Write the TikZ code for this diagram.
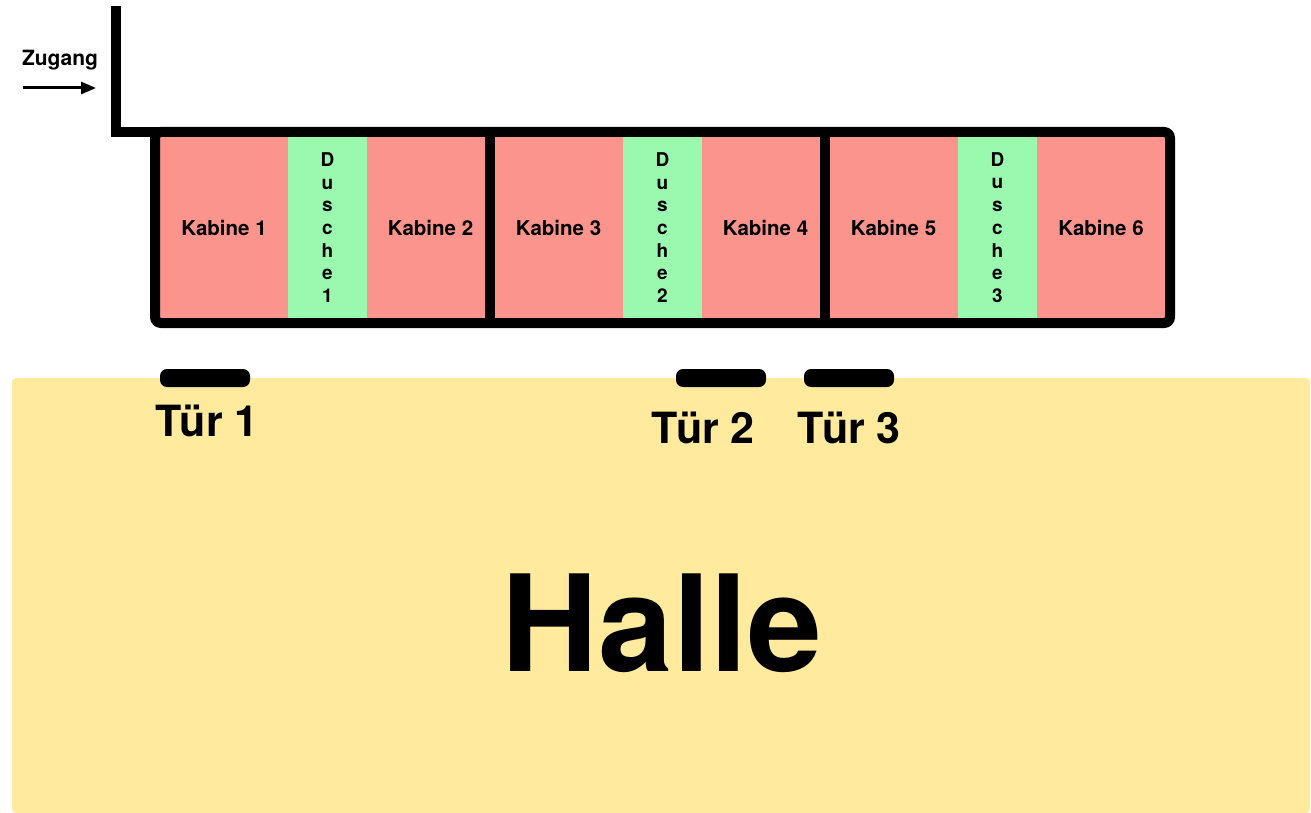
\documentclass[tikz,border=0pt]{standalone}
\usepackage{fontspec}
\setmainfont{TeX Gyre Heros}
\usetikzlibrary{arrows.meta}
\definecolor{kabred}{HTML}{FB948D}
\definecolor{duschgreen}{HTML}{9AF9AF}
\definecolor{hallegelb}{HTML}{FFEA9E}
\begin{document}
\begin{tikzpicture}[x=1pt,y=-1pt,
  cell/.style={inner sep=0pt, minimum height=191pt, anchor=center},
  kabine/.style={cell, fill=kabred, font=\fontsize{20.5}{24}\selectfont\bfseries},
  dusche/.style={cell, fill=duschgreen, align=center, font=\fontsize{19}{22.7}\selectfont\bfseries},
  wall/.style={line width=10pt, line join=miter},
  door/.style={fill=black, rounded corners=7pt},
  doorlabel/.style={anchor=base, inner sep=0pt, font=\fontsize{43}{48}\selectfont\bfseries}]
\useasboundingbox (0,0) rectangle (1311,813);
% Halle
\fill[hallegelb, rounded corners=4pt] (12,378) rectangle (1310,813);
\node[anchor=base, inner sep=0pt, font=\fontsize{134}{150}\selectfont\bfseries] (halle) at (662,671) {Halle};
% cells
\node[kabine, minimum width=128pt] (k1) at (224,227.5) {Kabine 1};
\node[dusche, minimum width=79pt] (d1) at (327.5,227.5) {D\\u\\s\\c\\h\\e\\1};
\node[kabine, minimum width=123pt] (k2) at (428.5,227.5) {\hspace{4pt}Kabine 2};
\node[kabine, minimum width=133pt] (k3) at (556.5,227.5) {\hspace{4pt}Kabine 3};
\node[dusche, minimum width=79pt] (d2) at (662.5,227.5) {D\\u\\s\\c\\h\\e\\2};
\node[kabine, minimum width=123pt] (k4) at (763.5,227.5) {\hspace{4pt}Kabine 4};
\node[kabine, minimum width=133pt] (k5) at (891.5,227.5) {\hspace{4pt}Kabine 5};
\node[dusche, minimum width=79pt] (d3) at (997.5,227.5) {D\\u\\s\\c\\h\\e\\3};
\node[kabine, minimum width=128pt] (k6) at (1101,227.5) {Kabine 6};
% outline and dividers
\draw[line width=10pt, rounded corners=6pt] (155,132) rectangle (1170,323);
\draw[wall] (490,132) -- (490,323);
\draw[wall] (825,132) -- (825,323);
% entrance wall
\draw[wall] (116,6) -- (116,132) -- (160,132);
% Zugang
\node[anchor=base, inner sep=0pt, font=\fontsize{21}{23}\selectfont\bfseries] (zugang) at (60,66) {Zugang};
\coordinate (za) at (23,88);
\coordinate (zb) at (96,88);
\draw[line width=3pt, -{Triangle[length=15pt, width=12pt]}] (za) -- (zb);
% doors
\fill[door] (160,369) rectangle (250,387);
\fill[door] (676,369) rectangle (766,387);
\fill[door] (804,369) rectangle (894,387);
\node[doorlabel] (t1) at (207,436) {Tür 1};
\node[doorlabel] (t2) at (703,443) {Tür 2};
\node[doorlabel] (t3) at (849,443) {Tür 3};
\end{tikzpicture}
\end{document}
